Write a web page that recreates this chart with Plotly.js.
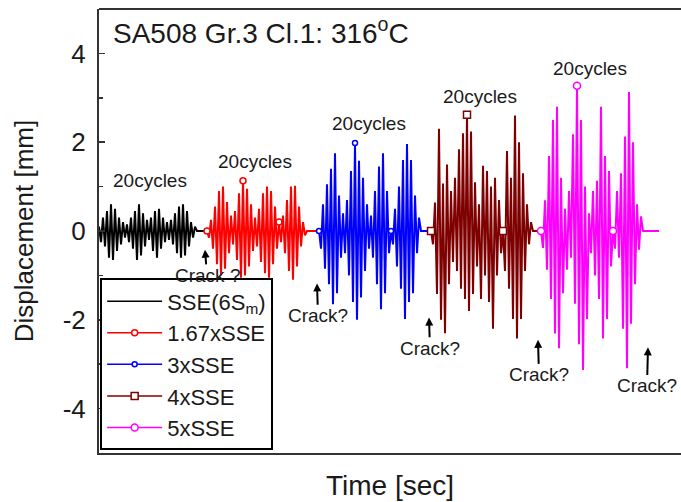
<!DOCTYPE html>
<html><head><meta charset="utf-8">
<script src="https://cdn.plot.ly/plotly-3.0.1.min.js"></script>
<style>html,body{margin:0;padding:0;overflow:hidden;background:#fff}</style>
</head><body><div id="chart" style="width:681px;height:502px"></div>
<script>
// ---- data ----
const seriesNames = ['SSE(6S<sub>m</sub>)', '1.67xSSE', '3xSSE', '4xSSE', '5xSSE'];
const startTimes = [0, 10.8, 22.0, 33.2, 44.2];   // sec, start of each loading block
const sampleStep = 0.2;                          // sec between samples
const dispSSE = [0.1,-0.25,0.3,-0.35,0.45,-0.6,0.6,-0.65,0.5,-0.45,0.3,-0.3,0.2,-0.15,0.15,-0.25,0.3,-0.4,0.45,-0.65,
  0.6,-0.55,0.4,-0.35,0.25,-0.2,0.3,-0.45,0.45,-0.6,0.5,-0.4,0.3,-0.25,0.2,-0.2,0.25,-0.3,0.4,-0.5,
  0.55,-0.6,0.6,-0.55,0.45,-0.35,0.2,-0.15,0.1,0,0,0,0,0,0];
const disp167 = [0,-0.15,0.25,-0.4,0.55,-0.75,0.9,-1.0,1.0,-0.85,0.65,-0.5,0.35,-0.3,0.45,-0.65,0.85,-1.05,1.13,-1.0,
  0.95,-0.8,0.6,-0.45,0.3,-0.35,0.5,-0.7,0.85,-0.95,1.0,-1.05,0.9,-0.75,0.55,-0.4,0.2,-0.25,0.35,-0.5,
  0.7,-0.9,1.0,-1.1,1.02,-0.8,0.55,-0.35,0.2,-0.1,0,0,0,0,0,0,0];
const disp3 = [0,-0.4,0.6,-0.85,1.05,-1.2,1.4,-1.65,1.75,-1.4,0.8,-0.6,0.4,-0.5,0.7,-1.0,1.35,-1.6,1.98,-2.0,
  1.58,-1.5,1.2,-0.9,0.6,-0.4,0.35,-0.6,0.9,-1.2,1.45,-1.76,1.75,-1.4,0.9,-0.5,0.0,-0.3,0.5,-0.8,
  1.0,-1.3,1.6,-1.98,1.96,-1.6,1.6,-1.4,0.8,-0.5,0.3,0,0,0,0,0,0];
const disp4 = [0,-0.3,0.64,-1.42,2.3,-2.0,1.07,-2.3,1.5,-1.2,0.9,-0.7,1.2,-0.9,1.84,-1.3,2.2,-1.53,2.62,-1.8,
  2.24,-1.42,1.1,-0.8,0.6,-1.53,1.47,-1.0,1.35,-1.6,1.0,-2.2,1.2,-1.0,0.7,-0.5,0.0,-0.9,1.8,-1.3,
  1.2,-1.98,2.6,-2.42,2.0,-1.98,1.3,-0.9,0.6,-0.3,0.2,0,0,0,0,0];
const disp5 = [0,-0.38,0.69,-0.87,1.69,-1.53,2.5,-2.31,2.8,-2.64,1.2,-1.4,0.5,-0.87,0.9,-0.6,2.18,-1.64,3.27,-2.55,
  2.5,-3.13,1.0,-1.98,0.4,-0.5,0.9,-1.0,1.13,-1.53,2.8,-2.42,1.69,-1.98,1.35,-0.8,0.0,-0.4,0.9,-0.6,
  1.3,-2.2,2.13,-3.09,3.13,-2.09,2.0,-1.2,0.6,-0.42,0.33,0,0,0,0,0,0,0,0,0];
const crackLabels = ['Crack ?', 'Crack?', 'Crack?', 'Crack?', 'Crack?'];
const cycleLabel = '20cycles';

// ---- styles ----
const FONT = 'Liberation Sans, Arial, sans-serif';
const TXT = '#1a1a1a';
const colors = ['#000000', '#ff0000', '#0000ff', '#7f0000', '#ff00ff'];
const symbols = ['circle', 'circle', 'circle', 'square', 'circle'];
const msizes = [0, 6, 5, 7, 7];
const allDisp = [dispSSE, disp167, disp3, disp4, disp5];

const traces = [];
const legendTraces = [];
allDisp.forEach((vals, k) => {
  const t = vals.map((_, i) => +(startTimes[k] + i * sampleStep).toFixed(3));
  traces.push({x: t, y: vals, type: 'scatter', mode: 'lines', showlegend: false,
    line: {color: colors[k], width: 2}, hoverinfo: 'skip'});
  const mk = {symbol: symbols[k], size: msizes[k], color: '#fff', line: {color: colors[k], width: 1.5}};
  if (k > 0) {
    const mx = [], my = [];
    vals.forEach((v, i) => { if (i % 18 === 0 && i < 50) { mx.push(t[i]); my.push(v); } });
    traces.push({x: mx, y: my, type: 'scatter', mode: 'markers', showlegend: false, marker: mk});
  }
  legendTraces.push({x: [null], y: [null], type: 'scatter', name: seriesNames[k],
    mode: k === 0 ? 'lines' : 'lines+markers', line: {color: colors[k], width: 1.5}, marker: mk});
});

// annotation positions (data coords)
const cyclePos = [[5.1, 1.13], [15.6, 1.56], [27.0, 2.42], [38.1, 3.02], [49.1, 3.67]];
const crackTip = [[10.6, -0.42], [21.8, -1.18], [33.0, -1.95], [43.9, -2.45], [54.9, -2.62]];
const crackText = [[10.8, -1.0], [21.9, -1.91], [33.1, -2.64], [44.0, -3.24], [54.8, -3.49]];
const pxPerUnit = 44.4;

const annotations = [];
cyclePos.forEach(p => annotations.push({x: p[0], y: p[1], xref: 'x', yref: 'y', text: cycleLabel,
  showarrow: false, font: {family: FONT, size: 19, color: TXT}}));
crackTip.forEach((p, k) => {
  annotations.push({x: p[0], y: p[1], xref: 'x', yref: 'y', text: crackLabels[k], showarrow: true,
    ax: (crackText[k][0] - p[0]) * 10, ay: (p[1] - crackText[k][1]) * pxPerUnit, borderpad: 0,
    arrowhead: 2, arrowsize: 0.8, arrowwidth: 2, arrowcolor: '#000', standoff: 0, startstandoff: 0,
    font: {family: FONT, size: 19, color: TXT}});
});

const layout = {
  width: 681, height: 502,
  margin: {l: 99, r: 0, t: 9, b: 49, pad: 0},
  paper_bgcolor: '#fff', plot_bgcolor: '#fff',
  showlegend: true,
  title: {text: 'SA508 Gr.3 Cl.1: 316<sup>o</sup>C', font: {family: FONT, size: 28, color: TXT},
    x: 0, xref: 'paper', xanchor: 'left', y: 1, yref: 'paper', yanchor: 'top', pad: {l: 14, t: 14}},
  xaxis: {range: [0, 58.2], showgrid: false, zeroline: false, showticklabels: false, ticks: '',
    showline: true, linecolor: '#333', linewidth: 2, fixedrange: true,
    title: {text: 'Time [sec]', font: {family: FONT, size: 28, color: TXT}, standoff: 21}},
  yaxis: {range: [-5, 5], tickvals: [-4, -2, 0, 2, 4], ticktext: ['-4', '-2', '0', '2', '4'],
    ticks: 'inside', ticklen: 6, tickwidth: 1.5, tickcolor: '#333',
    minor: {tickvals: [-3, -1, 1, 3], ticks: 'inside', ticklen: 4, tickwidth: 1.5, tickcolor: '#333'},
    showgrid: false, zeroline: false, showline: true, linecolor: '#333', linewidth: 2,
    tickfont: {family: FONT, size: 26, color: TXT}, ticklabelstandoff: 6, fixedrange: true,
    title: {text: 'Displacement [mm]', font: {family: FONT, size: 26, color: TXT}, standoff: 22}},
  legend: {x: 0.002, y: 0.006, xanchor: 'left', yanchor: 'bottom', bgcolor: '#fff', bordercolor: '#000',
    borderwidth: 2, font: {family: FONT, size: 22, color: TXT}, itemwidth: 55, tracegroupgap: 0},
  shapes: [{type: 'line', xref: 'paper', yref: 'paper', x0: 0, x1: 1, y0: 1, y1: 1,
    line: {color: '#333', width: 2}}],
  annotations: annotations
};

Plotly.newPlot('chart', traces.concat(legendTraces), layout, {displayModeBar: false, staticPlot: true});
</script></body></html>
